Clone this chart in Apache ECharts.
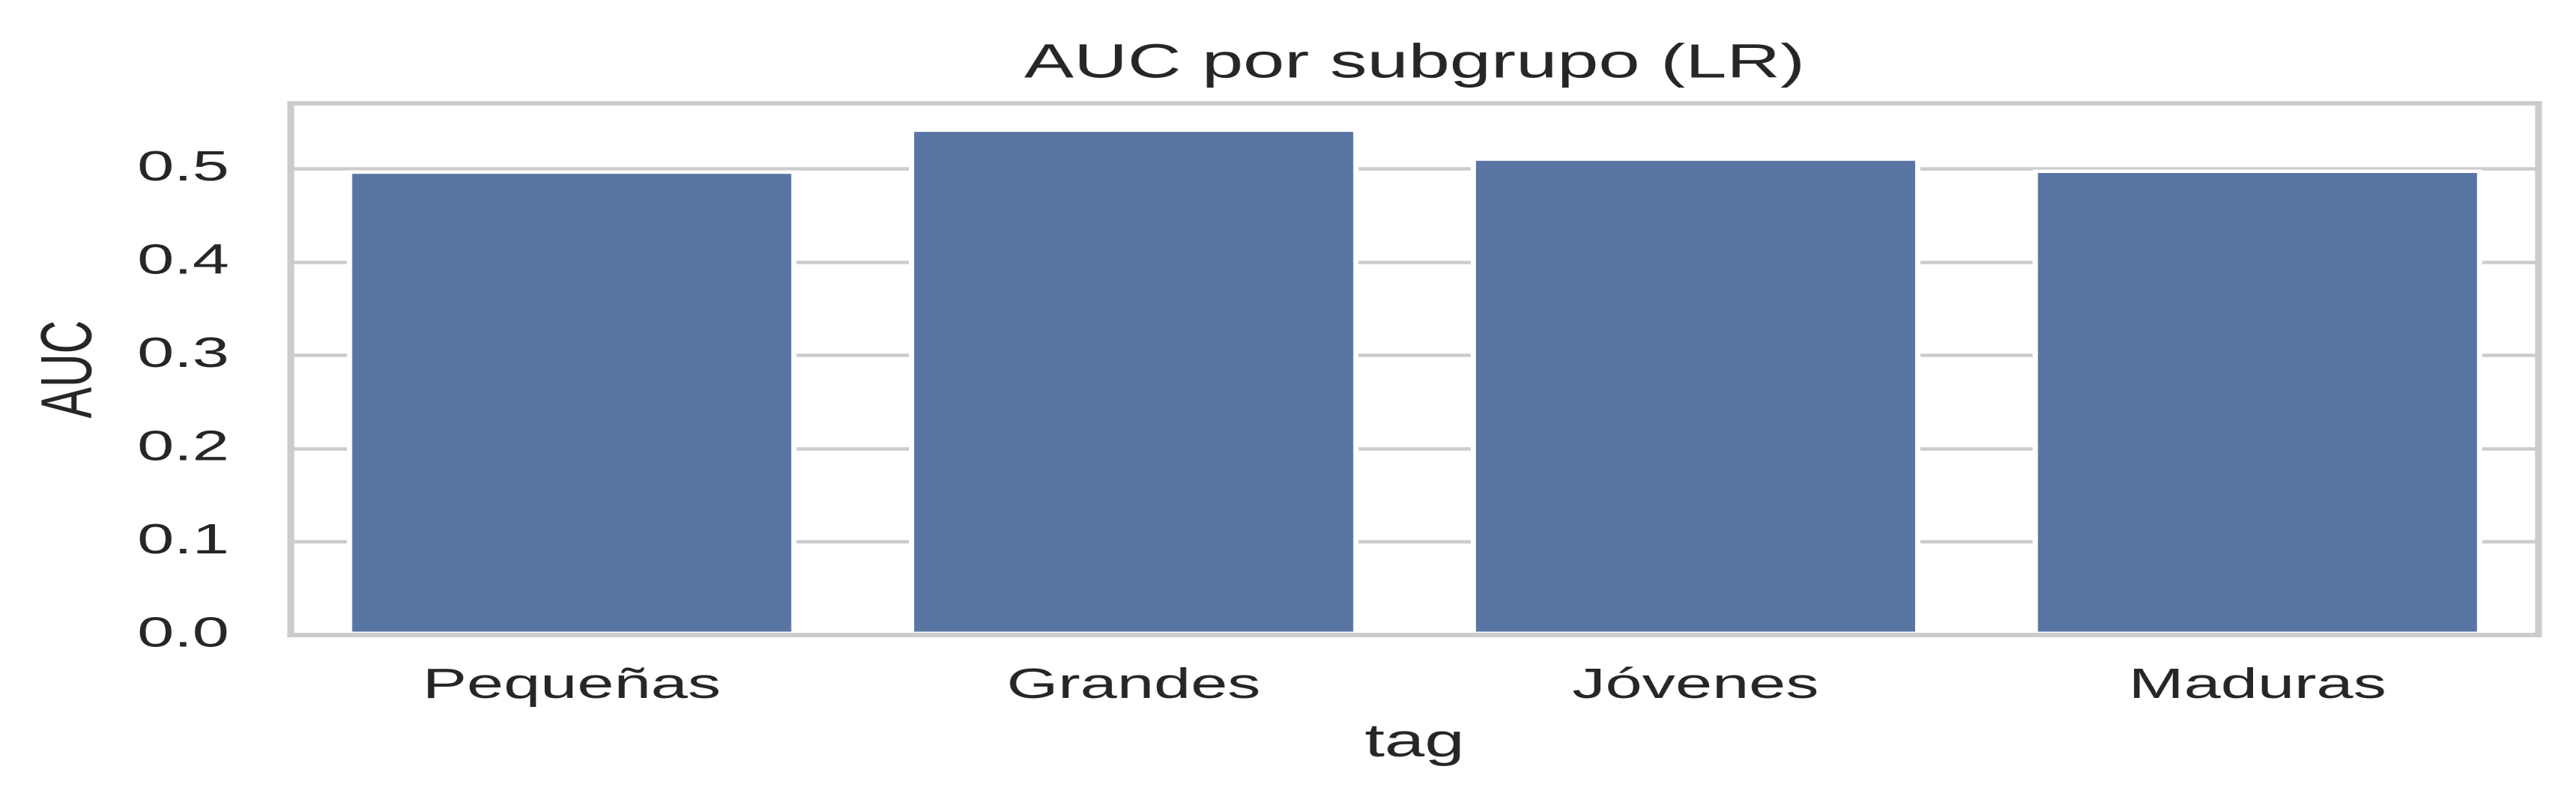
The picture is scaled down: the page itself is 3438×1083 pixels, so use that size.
<!DOCTYPE html>
<html>
<head>
<meta charset="utf-8">
<title>AUC por subgrupo (LR)</title>
<script src="https://cdn.jsdelivr.net/npm/echarts@6/dist/echarts.min.js"></script>
<style>
    html, body { margin: 0; padding: 0; background: #fff; overflow: hidden; }
    #main { height: 1083px; transform-origin: 0 0; }
</style>
</head>
<body>
<div id="main"></div>
<script>
// data
const categories = ['Pequeñas', 'Grandes', 'Jóvenes', 'Maduras'];
const aucValues = [0.498, 0.543, 0.512, 0.499];
const yMax = 0.57;
const yStep = 0.1;

// the source figure is stretched sideways, so draw narrow and scale x
const SX = 1.55;
const W = 3438 / SX;
const font = "'Liberation Sans', Arial, sans-serif";
const textColor = '#262626';

const el = document.getElementById('main');
el.style.width = W + 'px';
el.style.transform = 'scaleX(' + SX + ')';

const myChart = echarts.init(el, null, { renderer: 'canvas', devicePixelRatio: 2 });
const plotLeft = 388 / SX;
const plotRight = 50 / SX;

myChart.setOption({
    animation: false,
    backgroundColor: '#ffffff',
    title: {
        text: 'AUC por subgrupo (LR)',
        left: (388 + 3388) / 2 / SX,
        textAlign: 'center',
        top: 54,
        padding: 0,
        textStyle: { fontFamily: font, fontSize: 64, fontWeight: 'normal', color: textColor }
    },
    grid: {
        show: true,
        left: plotLeft,
        right: plotRight,
        top: 138,
        bottom: 235,
        borderColor: '#cccccc',
        borderWidth: 6,
        backgroundColor: '#ffffff'
    },
    xAxis: {
        type: 'category',
        data: categories,
        z: 5,
        name: 'tag',
        nameLocation: 'middle',
        nameGap: 114,
        nameTextStyle: { fontFamily: font, fontSize: 62, color: textColor },
        axisLine: { show: true, lineStyle: { color: '#cccccc', width: 6 } },
        axisTick: { show: false },
        axisLabel: { fontFamily: font, fontSize: 57, color: textColor, margin: 40 },
        splitLine: { show: false }
    },
    yAxis: {
        type: 'value',
        min: 0,
        max: yMax,
        interval: yStep,
        name: 'AUC',
        nameLocation: 'middle',
        nameRotate: 90,
        nameGap: 158,
        nameTextStyle: { fontFamily: font, fontSize: 62, color: textColor },
        axisLine: { show: false },
        axisTick: { show: false },
        axisLabel: {
            fontFamily: font,
            fontSize: 57,
            color: textColor,
            margin: 53,
            showMaxLabel: false,
            formatter: function (v) {
                const k = v / yStep;
                return Math.abs(k - Math.round(k)) < 1e-6 ? v.toFixed(1) : '';
            }
        },
        splitLine: { show: true, lineStyle: { color: '#cccccc', width: 4.5 } }
    },
    series: [{
        name: 'AUC',
        type: 'bar',
        data: aucValues,
        barCategoryGap: '20%',
        itemStyle: { color: '#5975a4', borderColor: '#ffffff', borderWidth: 4.5 }
    }]
});
</script>
</body>
</html>
